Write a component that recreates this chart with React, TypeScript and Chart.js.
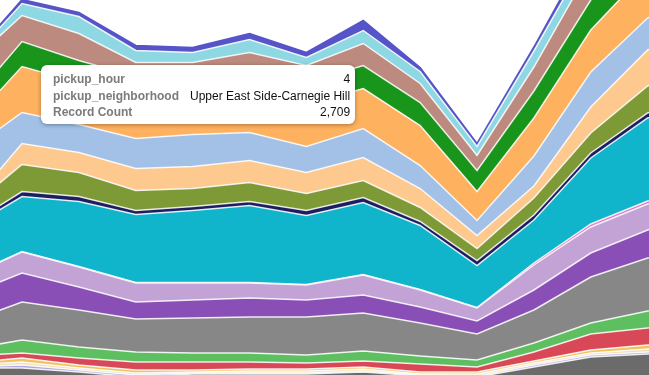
import React, { useEffect, useRef } from 'react';
import { Chart, registerables } from 'chart.js';

Chart.register(...registerables);

// pickup hour positions (x values)
const hours = [0, 1, 2, 3, 4, 5, 6, 7, 8, 9, 10, 11, 12, 13];

// Record counts per neighborhood (stack bottom -> top)
const darkGrey = [32, 32, 28, 23, 26, 26, 26, 28, 24, 23, 33, 43, 46, 50];
const lavender = [1, 3, 2, 2, 1, 1, 1, 1, 1, 1, 2, 2, 2, 3];
const pale = [2, 3, 2, 2, 1, 2, 2, 2, 1, 2, 2, 2, 3, 3];
const yellow = [2, 4, 3, 3, 2, 2, 2, 2, 2, 2, 2, 3, 4, 4];
const red = [7, 5, 7, 8, 8, 7, 6, 6, 8, 5, 9, 16, 17, 18];
const green2 = [6, 13, 11, 10, 9, 9, 8, 10, 8, 7, 9, 11, 17, 17];
const grey = [27, 38, 37, 33, 35, 36, 38, 38, 33, 26, 33, 46, 53, 60];
const purple = [27, 29, 23, 17, 18, 19, 17, 18, 16, 13, 20, 24, 28, 30];
const lilac = [18, 21, 20, 19, 17, 15, 15, 20, 17, 13, 25, 26, 26, 25];
const pink = [0.5, 0.5, 0.5, 0.5, 0.5, 0.5, 0.5, 0.5, 0.5, 0.5, 2, 3, 3, 3];
const teal = [47, 55, 65, 68, 72, 77, 69, 72, 64, 42, 43, 66, 83, 92];
const navy = [3, 5, 5, 4, 4, 4, 5, 5, 4, 5, 5, 5, 5, 5];
const olive = [16, 27, 24, 20, 18, 19, 17, 17, 14, 12, 17, 20, 27, 30];
const peach = [1, 21, 20, 22, 22, 22, 21, 23, 19, 13, 12, 26, 36, 35];
const lightBlue = [57, 31, 28, 30, 32, 28, 26, 29, 23, 15, 30, 35, 32, 35];
const orange = [25, 46, 42, 40, 38, 40, 42, 40, 40, 29, 38, 42, 48, 50];
const green = [20, 25, 22, 22, 22, 22, 22, 23, 23, 21, 27, 30, 20, 20];
const rosy = [41, 26, 27, 14, 12, 18, 17, 22, 19, 15, 24, 33, 30, 30];
const cyan = [2, 12, 17, 12, 10, 13, 8, 13, 12, 9, 16, 16, 15, 15];
const indigo = [1, 4, 4, 5, 5, 6, 5, 10, 4, 3, 4, 7, 5, 5];

const names = [
  'Midtown-Midtown South', 'Battery Park City-Lower Manhattan', 'Chinatown', 'Clinton',
  'Murray Hill-Kips Bay', 'East Village', 'West Village', 'Turtle Bay-East Midtown',
  'Gramercy', 'Hudson Yards-Chelsea', 'Lincoln Square', 'Upper East Side-Carnegie Hill',
  'Yorkville', 'Lenox Hill-Roosevelt Island', 'SoHo-TriBeCa', 'Upper West Side',
  'Stuyvesant Town', 'Lower East Side', 'Central Harlem South', 'Morningside Heights',
];
const colors = [
  '#6b6b6b', '#aaa8e2', '#f4dfb4', '#f1c25d', '#d94857', '#5dbf60', '#878787', '#8a4fb6',
  '#c3a2d5', '#e377c2', '#10b4cb', '#1d1d62', '#7e9a36', '#fec98f', '#a3c1e7', '#feb15f',
  '#1a951c', '#bc8a7e', '#8ed8e4', '#5654c9',
];
const values = [
  darkGrey, lavender, pale, yellow, red, green2, grey, purple, lilac, pink,
  teal, navy, olive, peach, lightBlue, orange, green, rosy, cyan, indigo,
];

const tooltipLabels = ['pickup_hour', 'pickup_neighborhood', 'Record Count'];
const tooltipValues = ['4', 'Upper East Side-Carnegie Hill', '2,709'];

export default function App() {
  const ref = useRef<HTMLCanvasElement>(null);
  useEffect(() => {
    document.body.style.margin = '0';
    const last = values.length - 1;
    const chart = new Chart(ref.current as HTMLCanvasElement, {
      type: 'line',
      data: {
        datasets: values.map((vals, i) => ({
          label: names[i],
          data: hours.map((h, j) => ({ x: h, y: vals[j] })),
          backgroundColor: colors[i],
          borderColor: i === last ? colors[i] : 'rgba(255,255,255,0.85)',
          borderWidth: 1.5,
          fill: i === 0 ? 'start' : '-1',
          pointRadius: 0,
          tension: 0,
        })),
      },
      options: {
        animation: false,
        responsive: false,
        events: [],
        layout: { padding: 0 },
        scales: {
          x: { type: 'linear', min: 0.613, max: 12.024, display: false },
          y: { stacked: true, min: 25, max: 400, display: false },
        },
        plugins: { legend: { display: false }, tooltip: { enabled: false } },
      },
    } as any);
    return () => chart.destroy();
  }, []);

  return (
    <div style={{ position: 'absolute', left: 0, top: 0, width: 649, height: 375, overflow: 'hidden', background: '#fff' }}>
      <canvas ref={ref} width={649} height={375} style={{ display: 'block', width: 649, height: 375 }} />
      <div
        style={{
          position: 'absolute', left: 41, top: 65, width: 314, height: 59, boxSizing: 'border-box',
          background: '#fff', borderRadius: 6, boxShadow: '0 1px 4px rgba(0,0,0,0.35)',
          padding: '6px 7px 0 12px', fontFamily: '"Liberation Sans", Arial, sans-serif', fontSize: 12,
          lineHeight: '16.5px', display: 'grid', gridTemplateColumns: 'auto 1fr', columnGap: 11,
          alignContent: 'start',
        }}
      >
        {tooltipLabels.map((l, i) => (
          <React.Fragment key={l}>
            <div style={{ color: '#7b7b7b', fontWeight: 'bold', whiteSpace: 'nowrap' }}>{l}</div>
            <div style={{ color: '#111', textAlign: 'right', whiteSpace: 'nowrap' }}>{tooltipValues[i]}</div>
          </React.Fragment>
        ))}
      </div>
    </div>
  );
}
